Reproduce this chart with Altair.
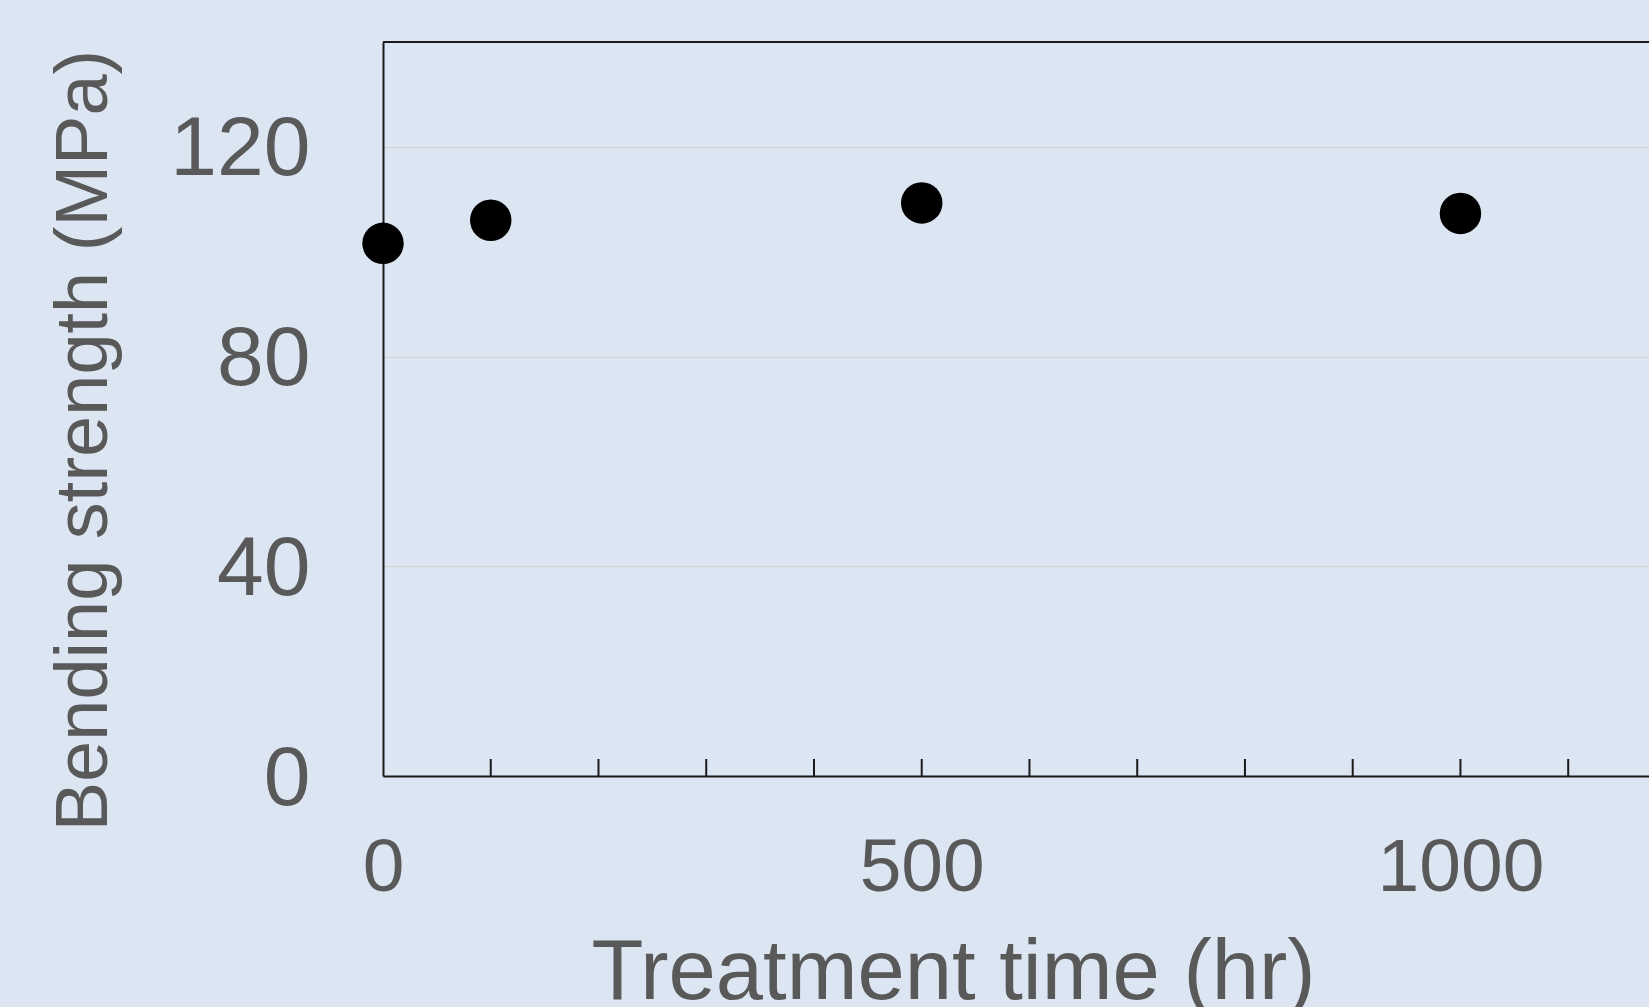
import altair as alt
import pandas as pd

# Data
time_hr = [0, 100, 500, 1000]
strength_mpa = [101.6, 106.0, 109.3, 107.3]
minor_tick_hr = [100, 200, 300, 400, 500, 600, 700, 800, 900, 1000, 1100]
x_label_values = [0, 500, 1000]
y_label_values = [0, 40, 80, 120]

W = 1266
H = 734
TEXT = "#595959"
FONT = "Liberation Sans"

pts = pd.DataFrame({"time": time_hr, "strength": strength_mpa})
ticks_df = pd.DataFrame({"time": minor_tick_hr})

x_scale = alt.Scale(domain=[0, 1175], nice=False, zero=False)
y_scale = alt.Scale(domain=[0, 140], nice=False)

points = alt.Chart(pts).mark_circle(size=1720, color="black", opacity=1).encode(
    x=alt.X(
        "time:Q",
        scale=x_scale,
        axis=alt.Axis(
            values=x_label_values,
            format="d",
            labelFlush=False,
            labelLimit=0,
            labelOverlap=False,
            labelBound=False,
            grid=False,
            ticks=False,
            domain=True,
            domainColor="#1a1a1a",
            domainWidth=2,
            labelFont=FONT,
            labelFontSize=75,
            labelColor=TEXT,
            labelPadding=55,
            labelBaseline="top",
            title="Treatment time (hr)",
            titleFont=FONT,
            titleFontSize=85,
            titleFontWeight="normal",
            titleColor=TEXT,
            titleX=570,
            titleY=222,
            titleAlign="center",
            titleBaseline="alphabetic",
            titleLimit=0,
        ),
    ),
    y=alt.Y(
        "strength:Q",
        scale=y_scale,
        axis=alt.Axis(
            values=y_label_values,
            format="d",
            labelFlush=False,
            labelLimit=0,
            labelOverlap=False,
            grid=True,
            gridColor="#d4d7da",
            gridWidth=1.5,
            ticks=False,
            domain=True,
            domainColor="#1a1a1a",
            domainWidth=2,
            labelFont=FONT,
            labelFontSize=84,
            labelColor=TEXT,
            labelPadding=73,
            labelOffset=3,
            title="Bending strength (MPa)",
            titleFont=FONT,
            titleFontSize=74,
            titleFontWeight="normal",
            titleColor=TEXT,
            titleAngle=270,
            titleX=-277,
            titleY=398,
            titleAlign="center",
            titleBaseline="alphabetic",
            titleLimit=0,
        ),
    ),
)

minor_ticks = alt.Chart(ticks_df).mark_rule(color="#1a1a1a", strokeWidth=2).encode(
    x=alt.X("time:Q", scale=x_scale),
    y=alt.value(H),
    y2=alt.value(H - 17),
)

top_line = alt.Chart(pd.DataFrame({"a": [0]})).mark_rule(
    color="#1a1a1a", strokeWidth=2
).encode(x=alt.value(0), x2=alt.value(W), y=alt.value(0))

chart = (
    alt.layer(minor_ticks, top_line, points)
    .properties(
        width=W,
        height=H,
        autosize=alt.AutoSizeParams(type="none"),
        padding={"left": 383, "top": 42, "right": 0, "bottom": 231},
        background="#dce6f2",
    )
    .configure_view(stroke=None)
)

chart.save("out.html", embed_options={"renderer": "svg", "actions": False})
